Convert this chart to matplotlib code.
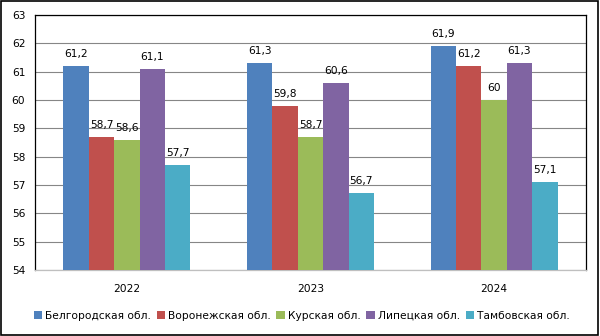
import matplotlib
matplotlib.use("Agg")
import matplotlib.pyplot as plt
import numpy as np
from matplotlib.patches import Rectangle

years = ["2022", "2023", "2024"]
regions = ["Белгородская обл.", "Воронежская обл.", "Курская обл.", "Липецкая обл.", "Тамбовская обл."]
values = {
    "Белгородская обл.": [61.2, 61.3, 61.9],
    "Воронежская обл.": [58.7, 59.8, 61.2],
    "Курская обл.": [58.6, 58.7, 60.0],
    "Липецкая обл.": [61.1, 60.6, 61.3],
    "Тамбовская обл.": [57.7, 56.7, 57.1],
}
colors = ["#4F81BD", "#C0504D", "#9BBB59", "#8064A2", "#4BACC6"]

plt.rcParams['font.family'] = ['DejaVu Sans']
fs = 7.7

fig = plt.figure(figsize=(6, 3.36), dpi=100)
ax = fig.add_axes([35/600, 1 - 270/336, (586-35)/600, (270-15)/336])

x = np.arange(len(years))
bw = 0.138
for i, r in enumerate(regions):
    pos = x + (i - 2) * bw
    ax.bar(pos, np.array(values[r]) - 54, bottom=54, width=bw, color=colors[i], label=r, zorder=3)
    for p, v in zip(pos, values[r]):
        lab = f"{v:g}".replace(".", ",")
        ax.text(p, v + 0.25, lab, ha="center", va="bottom", fontsize=fs, zorder=4)

ax.set_xlim(-0.5, 2.5)
ax.set_ylim(54, 63)
ax.set_yticks(range(54, 64))
ax.set_xticks(x)
ax.set_xticklabels(years)
ax.tick_params(axis="both", length=0, labelsize=fs)
ax.tick_params(axis="x", pad=10)
ax.tick_params(axis="y", pad=7)
ax.grid(axis="y", color="#868686", linewidth=0.8, zorder=0)
for s in ["left", "top", "right"]:
    ax.spines[s].set_color("black")
    ax.spines[s].set_linewidth(0.9)
ax.spines["bottom"].set_color("#BFBFBF")
ax.spines["bottom"].set_linewidth(0.9)

fig.legend(loc="center", bbox_to_anchor=(0.503, 1 - 316/336), ncol=5, frameon=False,
           fontsize=fs, handlelength=0.8, handleheight=0.8, handletextpad=0.3,
           columnspacing=0.5)

fig.patches.append(Rectangle((1/600, 1/336), 597/600, 334/336, transform=fig.transFigure,
                             fill=False, edgecolor="black", linewidth=1.2))

fig.savefig("out.png", dpi=100)
